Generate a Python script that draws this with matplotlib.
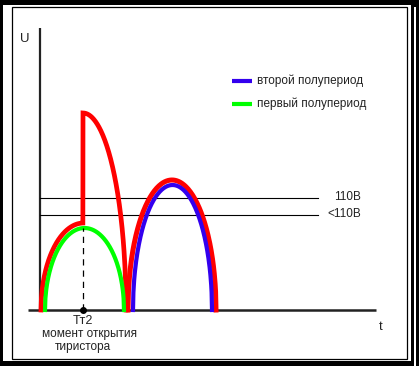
import numpy as np
import matplotlib.pyplot as plt
from matplotlib.patches import Rectangle

plt.rcParams['font.family'] = ['Liberation Sans', 'DejaVu Sans']

# полуволны: [начало, конец, амплитуда] (t и U в условных единицах)
green_hump = [5, 84, 82]      # первый полупериод
blue_hump = [93, 172, 125]    # второй полупериод
red_first = [1, 86, 87]       # красная кривая до открытия тиристора
red_second = [88, 176, 130]

t_open = 43       # момент открытия Tт2
u_jump = 197      # скачок напряжения
t_fall = 86       # спад до нуля

levels = [112, 95]
level_labels = ['110В', '<110В']
legend_labels = ['второй полупериод', 'первый полупериод']
legend_colors = ['#3300ee', '#00ff00']
legend_u = [229, 206]

W, H = 419, 366
FS = 8.5


def hump(start, end, amp, n=200):
    t = np.linspace(start, end, n)
    c = (start + end) / 2
    r = (end - start) / 2
    u = amp * np.sqrt(np.clip(1 - ((t - c) / r) ** 2, 0, None))
    return t, u


def px_rect(x0, y0, x1, y1, **kw):
    return Rectangle((x0 / W, 1 - y1 / H), (x1 - x0) / W, (y1 - y0) / H,
                     transform=fig.transFigure, zorder=-10, **kw)


fig = plt.figure(figsize=(W / 100, H / 100), dpi=100)
fig.patch.set_facecolor('black')

# рамка с тенью
fig.patches.append(px_rect(3, 5, 411, 361, facecolor='white', edgecolor='none'))
fig.patches.append(px_rect(414, 7, 416, 366, facecolor='white', edgecolor='none'))
fig.patches.append(px_rect(11.5, 6.5, 407, 358.5, facecolor='none',
                           edgecolor='black', linewidth=0.9))

ax = fig.add_axes([0, 0, 1, 1])
ax.set_xlim(-40, 379)
ax.set_ylim(-56, 310)
ax.axis('off')
ax.patch.set_visible(False)

# оси
ax.plot([0, 0], [0, 282], color='#222222', lw=1.6, solid_capstyle='butt')
ax.plot([-12, 336], [0, 0], color='#222222', lw=1.8, solid_capstyle='butt')
ax.text(-15, 271, 'U', fontsize=FS + 1, ha='center', va='center', color='#222222')
ax.text(341, -17, 't', fontsize=FS + 1, ha='center', va='center', color='#222222')

# уровни напряжения
for u, lab in zip(levels, level_labels):
    ax.plot([0, 278], [u, u], color='black', lw=0.8)
    ax.text(321, u + 1, lab, fontsize=FS, ha='right', va='center', color='#222222')

# красная кривая: первая полуволна до открытия, скачок и спад
t, u = hump(*red_first)
mask = t <= t_open
tf = np.linspace(t_open, t_fall, 200)
uf = u_jump * np.sqrt(np.clip(1 - ((tf - t_open) / (t_fall - t_open)) ** 2, 0, None))
ax.plot(np.concatenate([t[mask], [t_open], tf]),
        np.concatenate([u[mask], [u_jump], uf]),
        color='#ff0000', lw=3.4, solid_joinstyle='miter')

t, u = hump(*red_second)
ax.plot(t, u, color='#ff0000', lw=3.6)

t, u = hump(*green_hump)
ax.plot(t, u, color='#00ff00', lw=3.0)

t, u = hump(*blue_hump)
ax.plot(t, u, color='#3300ee', lw=3.0)

# момент открытия тиристора
ax.plot([t_open - 0.5, t_open - 0.5], [0, green_hump[2]], color='black', lw=0.9,
        linestyle=(0, (5, 4)))
ax.plot([t_open - 0.5], [0], 'o', color='black', ms=4)
ax.text(t_open, -14, 'Tт2', fontsize=FS + 0.5, ha='center', va='baseline', color='#222222')
ax.text(49, -27, 'момент открытия', fontsize=FS, ha='center', va='baseline', color='#222222')
ax.text(43, -40, 'тиристора', fontsize=FS, ha='center', va='baseline', color='#222222')

# легенда
for u, lab, col in zip(legend_u, legend_labels, legend_colors):
    ax.plot([192, 212], [u, u], color=col, lw=3.0, solid_capstyle='butt')
    ax.text(217, u, lab, fontsize=FS, ha='left', va='center', color='#222222')

plt.savefig('out.png', dpi=100)
